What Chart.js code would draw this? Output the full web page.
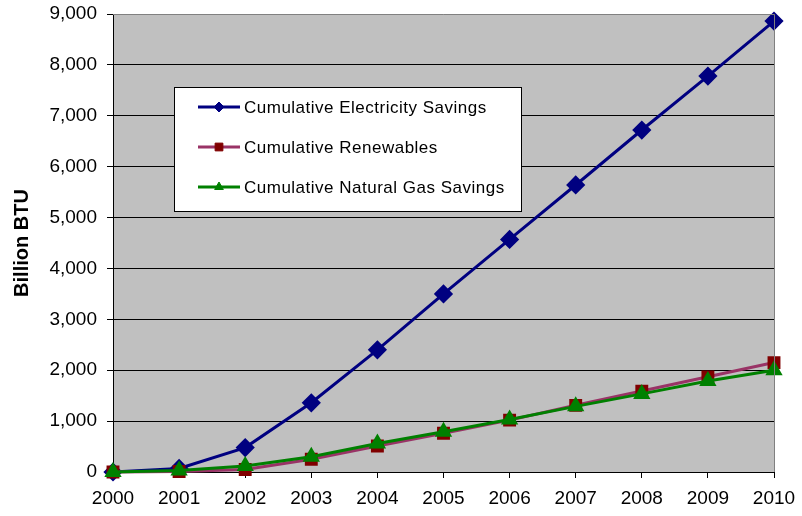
<!DOCTYPE html>
<html>
<head>
<meta charset="utf-8">
<script src="https://cdn.jsdelivr.net/npm/chart.js@4"></script>
<style>
  html, body { margin: 0; padding: 0; background: #fff; }
  #wrap { width: 802px; height: 516px; }
</style>
</head>
<body>
<div id="wrap"><canvas id="savings"></canvas></div>
<script>
const years = ['2000', '2001', '2002', '2003', '2004', '2005', '2006', '2007', '2008', '2009', '2010'];
const electricity = [0, 70, 480, 1360, 2400, 3500, 4570, 5640, 6720, 7780, 8860];
const renewables = [0, 10, 50, 250, 510, 760, 1020, 1310, 1590, 1870, 2150];
const naturalGas = [0, 30, 120, 300, 560, 790, 1030, 1290, 1535, 1790, 2000];
const yTicks = [0, 1000, 2000, 3000, 4000, 5000, 6000, 7000, 8000, 9000];

const FONT = '"Liberation Sans", Arial, sans-serif';

// gray plot background + top/right frame
const plotFrame = {
  id: 'plotFrame',
  beforeDraw(chart) {
    const { ctx, chartArea: a } = chart;
    ctx.save();
    ctx.fillStyle = '#c0c0c0';
    ctx.fillRect(a.left, a.top, a.right - a.left, a.bottom - a.top);
    ctx.restore();
  },
  afterDraw(chart) {
    const { ctx, chartArea: a } = chart;
    ctx.save();
    ctx.strokeStyle = '#808080';
    ctx.lineWidth = 1;
    ctx.beginPath();
    ctx.moveTo(a.left, a.top + 0.5);
    ctx.lineTo(a.right + 0.5, a.top + 0.5);
    ctx.lineTo(a.right + 0.5, a.bottom);
    ctx.stroke();
    ctx.restore();
  }
};

// boxed legend sitting inside the plot
const boxLegend = {
  id: 'boxLegend',
  afterDraw(chart) {
    const { ctx } = chart;
    const x = 174, y = 87, w = 347, h = 124;
    ctx.save();
    ctx.fillStyle = '#fff';
    ctx.fillRect(x, y, w, h);
    ctx.strokeStyle = '#000';
    ctx.lineWidth = 1;
    ctx.strokeRect(x + 0.5, y + 0.5, w, h);
    ctx.font = '17px ' + FONT;
    ctx.letterSpacing = '0.5px';
    ctx.textBaseline = 'middle';
    chart.data.datasets.forEach((ds, i) => {
      const cy = y + 20 + i * 40;
      ctx.strokeStyle = ds.borderColor;
      ctx.lineWidth = 3;
      ctx.beginPath();
      ctx.moveTo(198, cy);
      ctx.lineTo(240, cy);
      ctx.stroke();
      ctx.fillStyle = ds.pointBackgroundColor;
      ctx.strokeStyle = ds.pointBorderColor;
      ctx.lineWidth = 1;
      Chart.helpers.drawPoint(ctx, {
        pointStyle: ds.pointStyle,
        radius: ds.legendRadius,
        borderWidth: 1,
        rotation: 0
      }, 219, cy);
      ctx.fillStyle = '#000';
      ctx.fillText(ds.label, 244, cy + 1);
    });
    ctx.restore();
  }
};

new Chart(document.getElementById('savings'), {
  type: 'line',
  data: {
    labels: years,
    datasets: [
      {
        label: 'Cumulative Electricity Savings',
        data: electricity,
        borderColor: '#000080',
        backgroundColor: '#000080',
        pointBackgroundColor: '#000080',
        pointBorderColor: '#000080',
        pointStyle: 'rectRot',
        pointRadius: 7.5,
        legendRadius: 5,
        borderWidth: 3,
        order: 3
      },
      {
        label: 'Cumulative Renewables',
        data: renewables,
        borderColor: '#993366',
        backgroundColor: '#800000',
        pointBackgroundColor: '#800000',
        pointBorderColor: '#800000',
        pointStyle: 'rect',
        pointRadius: 7,
        legendRadius: 5.5,
        borderWidth: 3,
        order: 2
      },
      {
        label: 'Cumulative Natural Gas Savings',
        data: naturalGas,
        borderColor: '#008000',
        backgroundColor: '#008000',
        pointBackgroundColor: '#008000',
        pointBorderColor: '#008000',
        pointStyle: 'triangle',
        pointRadius: 7,
        legendRadius: 5,
        borderWidth: 3,
        order: 1
      }
    ]
  },
  options: {
    responsive: true,
    maintainAspectRatio: false,
    animation: false,
    clip: false,
    layout: { padding: { left: 0, right: 28, top: 14, bottom: 0 } },
    plugins: {
      legend: { display: false },
      tooltip: { enabled: false }
    },
    elements: { line: { tension: 0 }, point: { borderWidth: 1 } },
    scales: {
      x: {
        type: 'category',
        offset: false,
        grid: {
          offset: false,
          drawOnChartArea: false,
          drawTicks: true,
          tickLength: 6,
          tickColor: '#000'
        },
        border: { display: true, color: '#000', width: 1 },
        ticks: {
          color: '#000',
          font: { family: FONT, size: 19 },
          padding: 9,
          maxRotation: 0,
          autoSkip: false
        },
        afterFit(scale) {
          scale.height = 44;
          scale.paddingLeft = 0;
          scale.paddingRight = 0;
        }
      },
      y: {
        min: 0,
        max: 9000,
        afterBuildTicks(scale) { scale.ticks = yTicks.map(v => ({ value: v })); },
        grid: {
          color: c => (c.tick && c.tick.value > 0 && c.tick.value < 9000) ? '#000' : 'rgba(0,0,0,0)',
          lineWidth: 1,
          drawTicks: true,
          tickLength: 6,
          tickColor: '#000'
        },
        border: { display: true, color: '#000', width: 1 },
        ticks: {
          color: '#000',
          font: { family: FONT, size: 19 },
          padding: 10,
          callback: v => v.toLocaleString('en-US')
        },
        title: {
          display: true,
          text: 'Billion BTU',
          color: '#000',
          font: { family: FONT, size: 20, weight: 'bold' },
          padding: { top: 10, bottom: 4 }
        },
        afterFit(scale) {
          scale.width = 113;
          scale.paddingTop = 0;
          scale.paddingBottom = 0;
        }
      }
    }
  },
  plugins: [plotFrame, boxLegend]
});
</script>
</body>
</html>
